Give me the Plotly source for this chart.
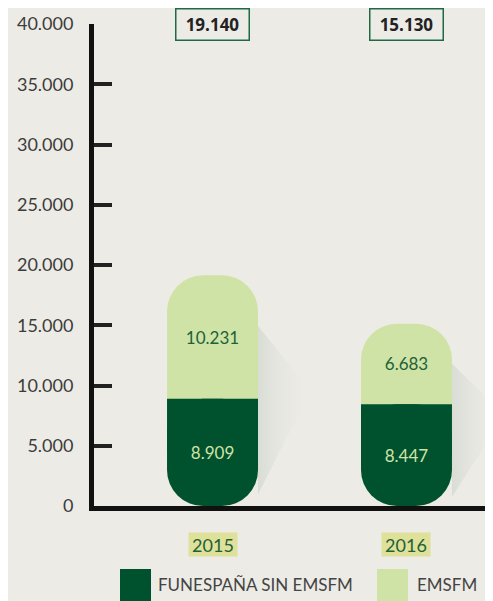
import plotly.graph_objects as go

categories = ["2015", "2016"]
funespana_sin = [8909, 8447]
emsfm = [10231, 6683]
totals = [19140, 15130]
series_names = ["FUNESPAÑA SIN EMSFM", "EMSFM"]
y_ticks = [0, 5000, 10000, 15000, 20000, 25000, 30000, 35000, 40000]

BG = "#ecebe5"
DARK = "#00522e"
LIGHT = "#cfe3a6"
FONT = "Lato, 'Open Sans', sans-serif"
R = 36

def fmt(v):
    return f"{v:,}".replace(",", ".")

xs = list(range(len(categories)))
W = 0.469

fig = go.Figure()

# faint diagonal shadows to the right of each pill
for i, t in enumerate(totals):
    xe = i + W / 2
    fig.add_trace(go.Scatter(
        x=[xe, xe + 0.27, xe, xe],
        y=[0.78 * t, 0.5 * t, 0.05 * t, 0.78 * t],
        fill="toself", mode="lines", line=dict(width=0),
        fillgradient=dict(type="horizontal",
                          colorscale=[[0, "rgba(20,80,45,0.09)"], [1, "rgba(236,235,229,0)"]]),
        showlegend=False, hoverinfo="skip"))

# full pill in light colour
fig.add_trace(go.Bar(
    x=xs, y=totals, base=[0] * len(xs), width=W,
    marker=dict(color=LIGHT, line=dict(width=0), cornerradius=R),
    showlegend=False, hoverinfo="skip"))

# light segment label (transparent carrier)
fig.add_trace(go.Bar(
    x=xs, y=emsfm, base=funespana_sin, width=W,
    marker=dict(color="rgba(0,0,0,0)", line=dict(width=0), cornerradius=0),
    text=[fmt(v) for v in emsfm], textposition="inside",
    insidetextanchor="middle", textangle=0,
    textfont=dict(color="#1d6238", size=17, family=FONT),
    name=series_names[1], showlegend=False, hoverinfo="skip"))

# square upper half of the dark segment
fig.add_trace(go.Bar(
    x=xs, y=[v / 2 for v in funespana_sin], base=[v / 2 for v in funespana_sin], width=W,
    marker=dict(color=DARK, line=dict(width=0), cornerradius=0),
    showlegend=False, hoverinfo="skip"))

# dark segment with rounded bottom
fig.add_trace(go.Bar(
    x=xs, y=funespana_sin, base=[0] * len(xs), width=W,
    marker=dict(color=DARK, line=dict(width=0), cornerradius=R),
    text=[fmt(v) for v in funespana_sin], textposition="inside",
    insidetextanchor="middle", textangle=0,
    textfont=dict(color="#cfe3a6", size=17, family=FONT),
    name=series_names[0], showlegend=False, hoverinfo="skip"))

# page has an 8px body margin: figure is sized to end at the window edge
OFF = 8
FW, FH = 493 - OFF, 601 - OFF
ML, MR, MT, MB = 94 - OFF, 0, 24 - OFF, 95
PW, PH = FW - ML - MR, FH - MT - MB

def px(x):
    return (x - OFF - ML) / PW

def py(y):
    return (FH - MB - (y - OFF)) / PH

annotations = []
for i, t in enumerate(totals):
    annotations.append(dict(
        x=i, y=40000, xref="x", yref="y", text=f"<b>{fmt(t)}</b>",
        showarrow=False, font=dict(size=17, color="#222222", family="'Open Sans', sans-serif"),
        bordercolor="#1f6a44", borderwidth=1.5, borderpad=0,
        width=72, height=30, bgcolor=BG, xanchor="center", yanchor="middle"))
    annotations.append(dict(
        x=i, y=0, xref="x", yref="paper", yshift=-38.5, text=categories[i],
        showarrow=False, font=dict(size=18, color="#1d6238", family=FONT),
        bgcolor="#dfe09a", width=48, height=23, borderpad=0,
        xanchor="center", yanchor="middle"))

# legend built from shapes and text
shapes = [
    dict(type="rect", xref="paper", yref="paper", x0=px(120), x1=px(151), y0=py(601), y1=py(569),
         fillcolor=DARK, line=dict(width=0)),
    dict(type="rect", xref="paper", yref="paper", x0=px(377), x1=px(408), y0=py(601), y1=py(569),
         fillcolor=LIGHT, line=dict(width=0)),
]
annotations.append(dict(x=px(156), y=py(584), xref="paper", yref="paper", text=series_names[0],
                        showarrow=False, xanchor="left", yanchor="middle",
                        font=dict(size=17, color="#444444", family=FONT)))
annotations.append(dict(x=px(415), y=py(584), xref="paper", yref="paper", text=series_names[1],
                        showarrow=False, xanchor="left", yanchor="middle",
                        font=dict(size=17, color="#444444", family=FONT)))

fig.update_layout(
    width=FW, height=FH, barmode="overlay",
    paper_bgcolor=BG, plot_bgcolor=BG, separators=",.",
    margin=dict(l=ML, r=MR, t=MT, b=MB),
    font=dict(family=FONT),
    showlegend=False,
    xaxis=dict(range=[-0.611, 1.446], showticklabels=False, showgrid=False, zeroline=False,
               showline=True, linewidth=5, linecolor="#111111", ticks="", automargin=False),
    yaxis=dict(range=[0, 40000], tickvals=y_ticks, ticktext=[fmt(v) for v in y_ticks],
               showgrid=False, zeroline=False, showline=True, linewidth=5, linecolor="#111111",
               ticks="inside", ticklen=18, tickwidth=4, tickcolor="#222222",
               ticklabelstandoff=12, automargin=False,
               tickfont=dict(size=18, color="#3c3c3c", family=FONT)),
    annotations=annotations, shapes=shapes,
)

fig.write_html("out.html")
